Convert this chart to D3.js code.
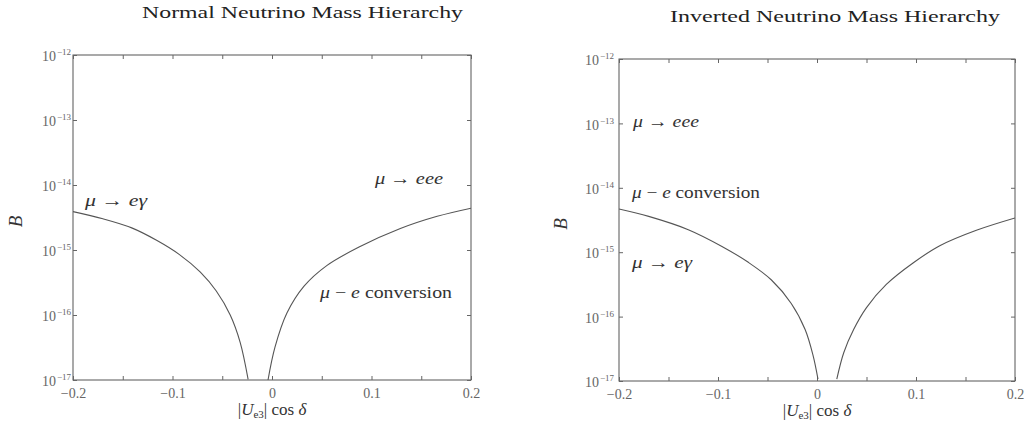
<!DOCTYPE html>
<html lang="en">
<head>
  <meta charset="UTF-8">
  <title>Neutrino Mass Hierarchy</title>
  <script src="https://d3js.org/d3.v7.min.js"></script>
  <style>
    body { margin: 0; background: #fff; }
    svg { display: block; font-family: "Liberation Serif", "DejaVu Serif", serif; }
    .frame { fill: none; stroke: #555; stroke-width: 1; }
    .axis path { display: none; }
    .axis line { stroke: #666; }
    .axis text { font-family: "Liberation Serif", serif !important; font-size: 14px; fill: #666; }
    .curve { fill: none; stroke: #555; stroke-width: 1.1; }
    .title { fill: #222; font-size: 17px; }
    .note { fill: #333; font-size: 17px; font-family: "Liberation Serif", serif; }
  </style>
</head>
<body>
  <svg id="chart" width="1029" height="428"></svg>

  <script>
    // tick values
    const xTicks = [-0.2, -0.1, 0, 0.1, 0.2];
    const xMinor = [-0.2, -0.15, -0.1, -0.05, 0, 0.05, 0.1, 0.15, 0.2];
    const yExps = [-12, -13, -14, -15, -16, -17];

    // normal hierarchy
    const normalLeftX = [-0.200, -0.170, -0.141, -0.116, -0.093, -0.072, -0.056, -0.042, -0.032, -0.024];
    const normalLeftB = [3.89e-15, 3.02e-15, 2.19e-15, 1.41e-15, 8.5e-16, 4.57e-16, 2.34e-16, 1.0e-16, 3.8e-17, 1.02e-17];
    const normalRightX = [-0.004, 0.003, 0.015, 0.032, 0.055, 0.088, 0.129, 0.166, 0.200];
    const normalRightB = [1.0e-17, 3.2e-17, 1.07e-16, 2.75e-16, 5.75e-16, 1.12e-15, 2.14e-15, 3.3e-15, 4.4e-15];

    // inverted hierarchy
    const invertedLeftX = [-0.200, -0.170, -0.130, -0.096, -0.069, -0.046, -0.026, -0.012, -0.004, 0.001];
    const invertedLeftB = [4.7e-15, 3.6e-15, 2.24e-15, 1.23e-15, 6.9e-16, 3.7e-16, 1.6e-16, 6.3e-17, 2.5e-17, 1.07e-17];
    const invertedRightX = [0.020, 0.027, 0.037, 0.050, 0.070, 0.097, 0.124, 0.161, 0.200];
    const invertedRightB = [1.07e-17, 2.75e-17, 6.3e-17, 1.38e-16, 3.16e-16, 6.8e-16, 1.26e-15, 2.19e-15, 3.4e-15];

    const svg = d3.select("#chart");

    const zip = (xs, bs) => xs.map((x, i) => [x, bs[i]]);

    function drawPanel(p) {
      const x = d3.scaleLinear().domain([-0.2, 0.2]).range([p.x0, p.x1]);
      const y = d3.scaleLog().domain([1e-17, 1e-12]).range([p.y1, p.y0]);
      const g = svg.append("g");

      // title
      g.append("text").attr("class", "title")
        .attr("x", p.tx).attr("y", p.ty)
        .attr("textLength", p.tw).attr("lengthAdjust", "spacingAndGlyphs")
        .text(p.title);

      // frame
      g.append("rect").attr("class", "frame")
        .attr("x", p.x0).attr("y", p.y0)
        .attr("width", p.x1 - p.x0).attr("height", p.y1 - p.y0);

      // bottom axis with labels
      g.append("g").attr("class", "axis")
        .attr("transform", `translate(0,${p.y1})`)
        .call(d3.axisBottom(x).tickValues(xMinor).tickSize(-4).tickPadding(8)
          .tickFormat(d => xTicks.some(t => Math.abs(t - d) < 1e-9) ? (d === 0 ? "0" : d3.format(".1f")(d).replace("-", "\u2212")) : ""));

      // top axis, ticks only
      g.append("g").attr("class", "axis")
        .attr("transform", `translate(0,${p.y0})`)
        .call(d3.axisTop(x).tickValues(xMinor).tickSize(-4).tickFormat(""));

      // left axis with 10^n labels
      const yTicks = yExps.map(e => Math.pow(10, e));
      const ly = g.append("g").attr("class", "axis")
        .attr("transform", `translate(${p.x0},0)`)
        .call(d3.axisLeft(y).tickValues(yTicks).tickSize(-4).tickPadding(p.pad).tickFormat(""));
      ly.selectAll(".tick text").each(function(d) {
        const t = d3.select(this).attr("dy", "0.4em");
        t.append("tspan").text("10");
        t.append("tspan").style("font-size", "9px").attr("dx", 1).attr("dy", -6)
          .text("\u2212" + Math.round(-Math.log10(d)));
      });

      // right axis ticks
      g.append("g").attr("class", "axis")
        .attr("transform", `translate(${p.x1},0)`)
        .call(d3.axisRight(y).tickValues(yTicks).tickSize(-4).tickFormat(""));

      // axis titles
      const xl = g.append("text").attr("class", "note")
        .attr("x", (p.x0 + p.x1) / 2).attr("y", p.y1 + 35)
        .attr("text-anchor", "middle");
      xl.append("tspan").text("|");
      xl.append("tspan").attr("font-style", "italic").text("U");
      xl.append("tspan").attr("font-size", 11).attr("dy", 3).text("e3");
      xl.append("tspan").attr("dy", -3).text("| cos ");
      xl.append("tspan").attr("font-style", "italic").text("\u03b4");

      g.append("text").attr("class", "note")
        .attr("transform", `translate(${p.bx},${(p.y0 + p.y1) / 2 + 4}) rotate(-90)`)
        .attr("text-anchor", "middle").attr("font-style", "italic")
        .style("font-size", "19px").text("B");

      // curves
      const line = d3.line()
        .x(d => x(d[0])).y(d => y(d[1]))
        .curve(d3.curveCatmullRom.alpha(0.5));
      const clipId = "clip" + p.id;
      g.append("clipPath").attr("id", clipId).append("rect")
        .attr("x", p.x0).attr("y", p.y0)
        .attr("width", p.x1 - p.x0).attr("height", p.y1 - p.y0);
      p.curves.forEach(c => {
        g.append("path").attr("class", "curve")
          .attr("clip-path", `url(#${clipId})`)
          .attr("d", line(c));
      });

      // process labels
      p.notes.forEach(n => {
        const t = g.append("text").attr("class", "note")
          .attr("x", n.x).attr("y", n.y)
          .attr("textLength", n.w).attr("lengthAdjust", "spacingAndGlyphs");
        n.parts.forEach(pt => {
          const s = t.append("tspan").text(pt[0]);
          if (pt[1]) s.attr("font-style", "italic");
        });
      });
    }

    const meg = [["\u03bc", 1], [" \u2192 ", 0], ["e\u03b3", 1]];
    const meee = [["\u03bc", 1], [" \u2192 ", 0], ["eee", 1]];
    const conv = [["\u03bc", 1], [" \u2212 ", 0], ["e", 1], [" conversion", 0]];

    drawPanel({
      id: "n", title: "Normal Neutrino Mass Hierarchy",
      tx: 142, ty: 18, tw: 321, bx: 22, pad: 2,
      x0: 73, x1: 471, y0: 55, y1: 380,
      curves: [zip(normalLeftX, normalLeftB), zip(normalRightX, normalRightB)],
      notes: [
        { x: 85, y: 206, w: 62, parts: meg },
        { x: 375, y: 184, w: 68, parts: meee },
        { x: 320, y: 298, w: 132, parts: conv }
      ]
    });

    drawPanel({
      id: "i", title: "Inverted Neutrino Mass Hierarchy",
      tx: 670, ty: 22, tw: 330, bx: 567, pad: 5,
      x0: 619, x1: 1015, y0: 59, y1: 381,
      curves: [zip(invertedLeftX, invertedLeftB), zip(invertedRightX, invertedRightB)],
      notes: [
        { x: 633, y: 127, w: 66, parts: meee },
        { x: 632, y: 198, w: 128, parts: conv },
        { x: 632, y: 268, w: 60, parts: meg }
      ]
    });
  </script>
</body>
</html>
